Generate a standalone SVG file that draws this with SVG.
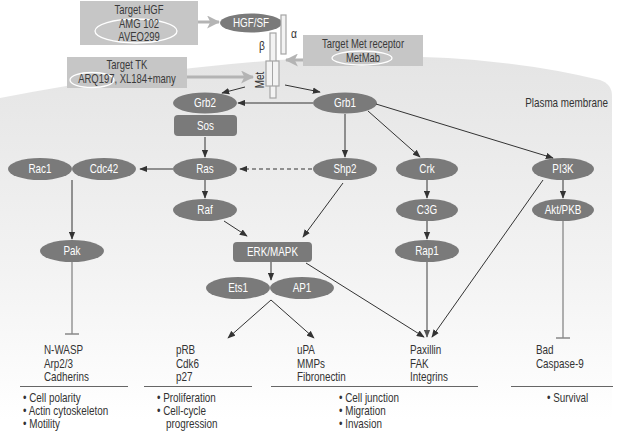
<svg xmlns="http://www.w3.org/2000/svg" width="619" height="432" viewBox="0 0 619 432">
<defs>
<linearGradient id="cell" x1="0" y1="50" x2="0" y2="420" gradientUnits="userSpaceOnUse">
<stop offset="0" stop-color="#e4e4e4"/>
<stop offset="0.6" stop-color="#f3f3f3"/>
<stop offset="1" stop-color="#ffffff"/>
</linearGradient>
<marker id="ah" viewBox="0 0 10 8" refX="9" refY="4" markerWidth="8" markerHeight="7" markerUnits="userSpaceOnUse" orient="auto">
<path d="M0,0 L10,4 L0,8 Z" fill="#333"/>
</marker>
<marker id="ahg" viewBox="0 0 10 8" refX="9" refY="4" markerWidth="8" markerHeight="7" markerUnits="userSpaceOnUse" orient="auto">
<path d="M0,0 L10,4 L0,8 Z" fill="#555"/>
</marker>
<marker id="big" viewBox="0 0 12 12" refX="11" refY="6" markerWidth="13" markerHeight="13" markerUnits="userSpaceOnUse" orient="auto">
<path d="M0,0 L12,6 L0,12 L3,6 Z" fill="#b4b4b4"/>
</marker>
</defs>
<style>
text{font-family:"Liberation Sans",Arial,sans-serif;}
.n{fill:#7a7a7a;}
.nt{fill:#fff;font-size:12.5px;text-anchor:middle;dominant-baseline:central;}
.tb{fill:#c6c6c6;}
.tt{fill:#3a3a3a;font-size:12px;text-anchor:middle;dominant-baseline:central;}
.oval{fill:none;stroke:#fff;stroke-width:1.3;}
.lt{fill:#333;font-size:12.5px;}
.c{stroke:#333;stroke-width:1;fill:none;marker-end:url(#ah);}
.g{stroke:#b4b4b4;stroke-width:3;fill:none;marker-end:url(#big);}
.inh{stroke:#888;stroke-width:1.3;fill:none;}
.rule{stroke:#666;stroke-width:1;}
.chain{fill:#f3f3f3;stroke:#a5a5a5;stroke-width:1.2;}
</style>
<rect width="619" height="432" fill="#fff"/>
<path d="M0,98 Q380,25 600,80 Q612,84 612,96 L612,432 L0,432 Z" fill="url(#cell)"/>
<text transform="translate(608,107) scale(.79,1)" class="lt" text-anchor="end">Plasma membrane</text>

<g id="target-hgf">
<rect x="80" y="1" width="118" height="44" class="tb"/>
<ellipse cx="136" cy="31" rx="41" ry="12" class="oval"/>
<text transform="translate(139,10) scale(.79,1)" class="tt">Target HGF</text>
<text transform="translate(139,24) scale(.79,1)" class="tt">AMG 102</text>
<text transform="translate(139,37) scale(.79,1)" class="tt">AVEO299</text>
</g>
<g id="target-tk">
<rect x="67" y="57" width="120" height="31" class="tb"/>
<ellipse cx="92" cy="80" rx="22" ry="7.5" class="oval"/>
<text transform="translate(127,65) scale(.79,1)" class="tt">Target TK</text>
<text transform="translate(127,79) scale(.79,1)" class="tt">ARQ197, XL184+many</text>
</g>
<g id="target-met">
<rect x="303" y="35" width="120" height="31" class="tb"/>
<ellipse cx="362" cy="58" rx="30" ry="7" class="oval"/>
<text transform="translate(363,44) scale(.79,1)" class="tt">Target Met receptor</text>
<text transform="translate(363,58) scale(.79,1)" class="tt">MetMab</text>
</g>
<g id="hgf">
<ellipse cx="251" cy="23" rx="31" ry="9.5" class="n"/>
<text transform="translate(251,23) scale(.79,1)" class="nt">HGF/SF</text>
</g>
<g id="met">
<rect x="281" y="15" width="5" height="39" class="chain"/>
<rect x="270" y="33" width="6" height="65" class="chain"/>
<rect x="266" y="61" width="13" height="25" class="chain"/>
<line x1="272.5" y1="61" x2="272.5" y2="86" stroke="#a5a5a5" stroke-width="1"/>
<text transform="translate(294,34) scale(.82,1)" class="lt" font-size="11" text-anchor="middle" dominant-baseline="central">α</text>
<text transform="translate(262,46) scale(.82,1)" class="lt" font-size="11" text-anchor="middle" dominant-baseline="central">β</text>
<text transform="translate(260,80) rotate(-90) scale(.79,1)" class="lt" text-anchor="middle" dominant-baseline="central">Met</text>
</g>

<g id="grb2"><ellipse cx="205" cy="103" rx="32" ry="10.5" class="n"/><text transform="translate(205,103) scale(.79,1)" class="nt">Grb2</text></g>
<g id="grb1"><ellipse cx="345" cy="103" rx="32" ry="10.5" class="n"/><text transform="translate(345,103) scale(.79,1)" class="nt">Grb1</text></g>
<g id="sos"><rect x="174" y="115" width="63" height="21" rx="4" class="n"/><text transform="translate(205.5,125.5) scale(.79,1)" class="nt">Sos</text></g>
<g id="rac1"><ellipse cx="40" cy="169" rx="32" ry="11" class="n"/><text transform="translate(40,169) scale(.79,1)" class="nt">Rac1</text></g>
<g id="cdc42"><ellipse cx="104" cy="169" rx="32" ry="11" class="n"/><text transform="translate(104,169) scale(.79,1)" class="nt">Cdc42</text></g>
<g id="ras"><ellipse cx="205" cy="169" rx="32" ry="11" class="n"/><text transform="translate(205,169) scale(.79,1)" class="nt">Ras</text></g>
<g id="shp2"><ellipse cx="345" cy="169" rx="32" ry="11" class="n"/><text transform="translate(345,169) scale(.79,1)" class="nt">Shp2</text></g>
<g id="crk"><ellipse cx="427" cy="169" rx="31" ry="11" class="n"/><text transform="translate(427,169) scale(.79,1)" class="nt">Crk</text></g>
<g id="pi3k"><ellipse cx="563" cy="169" rx="31" ry="11" class="n"/><text transform="translate(563,169) scale(.79,1)" class="nt">PI3K</text></g>
<g id="raf"><ellipse cx="205" cy="210" rx="32" ry="11" class="n"/><text transform="translate(205,210) scale(.79,1)" class="nt">Raf</text></g>
<g id="c3g"><ellipse cx="427" cy="210" rx="31" ry="11" class="n"/><text transform="translate(427,210) scale(.79,1)" class="nt">C3G</text></g>
<g id="akt"><ellipse cx="563" cy="210" rx="31" ry="11" class="n"/><text transform="translate(563,210) scale(.79,1)" class="nt">Akt/PKB</text></g>
<g id="pak"><ellipse cx="72" cy="251" rx="32" ry="11" class="n"/><text transform="translate(72,251) scale(.79,1)" class="nt">Pak</text></g>
<g id="erk"><rect x="233" y="242" width="79" height="20" rx="4" class="n"/><text transform="translate(272.5,252) scale(.79,1)" class="nt">ERK/MAPK</text></g>
<g id="rap1"><ellipse cx="427" cy="251" rx="32" ry="11" class="n"/><text transform="translate(427,251) scale(.79,1)" class="nt">Rap1</text></g>
<g id="ets1"><ellipse cx="238" cy="288" rx="32" ry="11" class="n"/><text transform="translate(238,288) scale(.79,1)" class="nt">Ets1</text></g>
<g id="ap1"><ellipse cx="302" cy="288" rx="32" ry="11" class="n"/><text transform="translate(302,288) scale(.79,1)" class="nt">AP1</text></g>

<g id="connectors">
<line x1="198" y1="22" x2="219" y2="22" class="g"/>
<line x1="187" y1="77" x2="253" y2="77" class="g"/>
<line x1="303" y1="60" x2="286" y2="60" class="g"/>
<line x1="245" y1="87" x2="222" y2="93" class="c"/>
<line x1="285" y1="85" x2="320" y2="92" class="c"/>
<line x1="313" y1="103" x2="238" y2="103" class="c"/>
<line x1="205" y1="137" x2="205" y2="157" class="c"/>
<line x1="173" y1="169" x2="140" y2="169" class="c"/>
<line x1="312" y1="169" x2="240" y2="169" class="c" stroke-dasharray="4,3"/>
<line x1="205" y1="180" x2="205" y2="198" class="c"/>
<line x1="345" y1="114" x2="345" y2="157" class="c"/>
<line x1="368" y1="111" x2="420" y2="157" class="c"/>
<line x1="376" y1="104" x2="553" y2="158" class="c"/>
<line x1="427" y1="180" x2="427" y2="198" class="c"/>
<line x1="563" y1="180" x2="563" y2="198" class="c"/>
<line x1="427" y1="221" x2="427" y2="239" class="c"/>
<line x1="224" y1="221" x2="247" y2="236" class="c"/>
<line x1="343" y1="183" x2="303" y2="237" class="c"/>
<line x1="271" y1="262" x2="271" y2="280" class="c"/>
<line x1="271" y1="300" x2="228" y2="338" class="c"/>
<line x1="271" y1="300" x2="314" y2="338" class="c"/>
<line x1="306" y1="263" x2="424" y2="337" class="c"/>
<line x1="427" y1="262" x2="427" y2="337" stroke="#999" stroke-width="2" marker-end="url(#ahg)"/>
<line x1="543" y1="180" x2="432" y2="337" class="c"/>
<line x1="72" y1="180" x2="72" y2="239" class="c"/>
<path d="M72,262 V334 M65,334 H79" class="inh"/>
<path d="M563,221 V338 M556,338 H570" class="inh"/>
</g>

<g id="outputs">
<text transform="translate(44,354) scale(.79,1)" class="lt">N-WASP</text>
<text transform="translate(44,368) scale(.79,1)" class="lt">Arp2/3</text>
<text transform="translate(44,381) scale(.79,1)" class="lt">Cadherins</text>
<text transform="translate(176,354) scale(.79,1)" class="lt">pRB</text>
<text transform="translate(176,368) scale(.79,1)" class="lt">Cdk6</text>
<text transform="translate(176,381) scale(.79,1)" class="lt">p27</text>
<text transform="translate(297,354) scale(.79,1)" class="lt">uPA</text>
<text transform="translate(297,368) scale(.79,1)" class="lt">MMPs</text>
<text transform="translate(297,381) scale(.79,1)" class="lt">Fibronectin</text>
<text transform="translate(410,354) scale(.79,1)" class="lt">Paxillin</text>
<text transform="translate(410,368) scale(.79,1)" class="lt">FAK</text>
<text transform="translate(410,381) scale(.79,1)" class="lt">Integrins</text>
<text transform="translate(536,354) scale(.79,1)" class="lt">Bad</text>
<text transform="translate(536,368) scale(.79,1)" class="lt">Caspase-9</text>
<line x1="20" y1="386.5" x2="128" y2="386.5" class="rule"/>
<line x1="144" y1="386.5" x2="252" y2="386.5" class="rule"/>
<line x1="271" y1="386.5" x2="478" y2="386.5" class="rule"/>
<line x1="511" y1="386.5" x2="613" y2="386.5" class="rule"/>
<text transform="translate(23,402) scale(.79,1)" class="lt">• Cell polarity</text>
<text transform="translate(23,415) scale(.79,1)" class="lt">• Actin cytoskeleton</text>
<text transform="translate(23,428) scale(.79,1)" class="lt">• Motility</text>
<text transform="translate(157,402) scale(.79,1)" class="lt">• Proliferation</text>
<text transform="translate(157,415) scale(.79,1)" class="lt">• Cell-cycle</text>
<text transform="translate(166,428) scale(.79,1)" class="lt">progression</text>
<text transform="translate(339,402) scale(.79,1)" class="lt">• Cell junction</text>
<text transform="translate(339,415) scale(.79,1)" class="lt">• Migration</text>
<text transform="translate(339,428) scale(.79,1)" class="lt">• Invasion</text>
<text transform="translate(547,402) scale(.79,1)" class="lt">• Survival</text>
</g>
</svg>
